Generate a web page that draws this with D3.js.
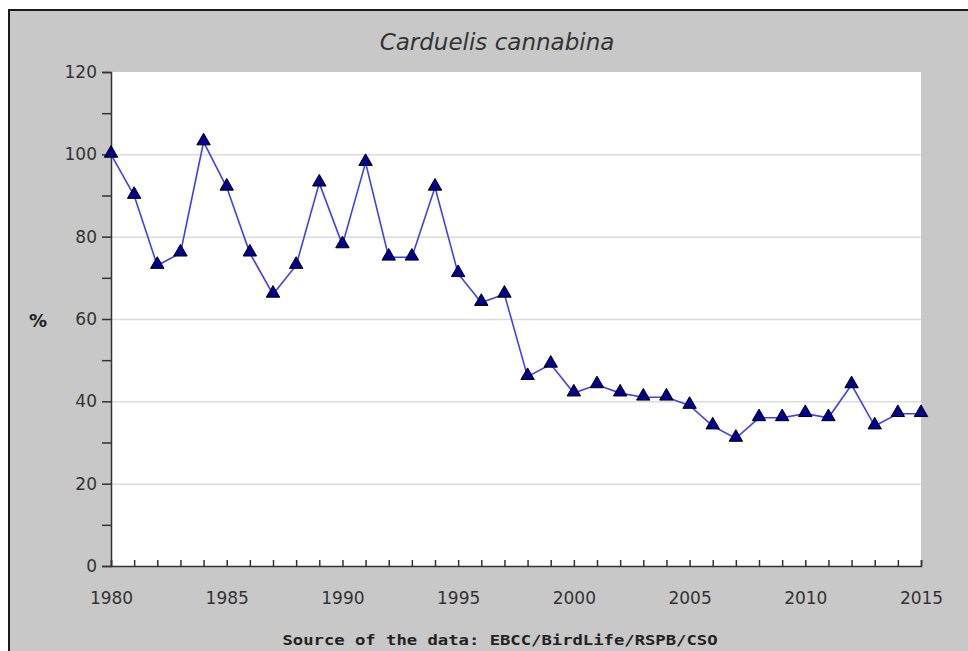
<!DOCTYPE html>
<html>
<head>
<meta charset="utf-8">
<script src="https://cdn.jsdelivr.net/npm/d3@7"></script>
<style>
html,body{margin:0;padding:0;background:#fff;}
svg{display:block;}
</style>
</head>
<body>
<svg id="chart" width="968" height="651"></svg>
<script>
const title = "Carduelis cannabina";
const yAxisLabel = "%";
const sourceText = "Source of the data: EBCC/BirdLife/RSPB/CSO";
const years = [1980,1981,1982,1983,1984,1985,1986,1987,1988,1989,1990,1991,1992,1993,1994,1995,1996,1997,1998,1999,2000,2001,2002,2003,2004,2005,2006,2007,2008,2009,2010,2011,2012,2013,2014,2015];
const values = [100,90,73,76,103,92,76,66,73,93,78,98,75,75,92,71,64,66,46,49,42,44,42,41,41,39,34,31,36,36,37,36,44,34,37,37];
const xTickLabels = [1980,1985,1990,1995,2000,2005,2010,2015];
const yTickLabels = [0,20,40,60,80,100,120];
const yMinorTicks = [0,10,20,30,40,50,60,70,80,90,100,110,120];
const gridValues = [20,40,60,80,100];

const svg = d3.select("#chart");
const pLeft = 111, pRight = 921, pTop = 72, pBottom = 566;

// frame
svg.append("rect").attr("x",9).attr("y",10).attr("width",1000).attr("height",700)
  .attr("fill","#c8c8c8").attr("stroke","#1a1a1a").attr("stroke-width",2);

// plot area
svg.append("rect").attr("x",pLeft).attr("y",pTop).attr("width",pRight-pLeft).attr("height",pBottom-pTop)
  .attr("fill","#ffffff");

const x = d3.scaleLinear().domain([1980,2015]).range([pLeft,pRight]);
const y = d3.scaleLinear().domain([0,120]).range([pBottom,pTop]);

// grid
svg.append("g").selectAll("line").data(gridValues).join("line")
  .attr("x1",pLeft).attr("x2",pRight)
  .attr("y1",d=>y(d)+0.5).attr("y2",d=>y(d)+0.5)
  .attr("stroke","#dcdcdc").attr("stroke-width",1.5);

// y axis
const yAxis = d3.axisLeft(y).tickValues(yMinorTicks).tickSize(9).tickPadding(5)
  .tickFormat(d => yTickLabels.includes(d) ? d : "");
const gy = svg.append("g").attr("transform",`translate(${pLeft},0)`).call(yAxis);
gy.select(".domain").attr("stroke","#333").attr("stroke-width",1.5);
gy.selectAll(".tick line").attr("stroke","#333").attr("stroke-width",1.5);
gy.selectAll("text").attr("font-family","DejaVu Sans, sans-serif").attr("font-size",17).attr("fill","#333");

// x axis (ticks pointing inward)
const xAxis = d3.axisBottom(x).tickValues(years).tickSize(-6).tickPadding(26)
  .tickFormat(d => xTickLabels.includes(d) ? d : "");
const gx = svg.append("g").attr("transform",`translate(0,${pBottom})`).call(xAxis);
gx.select(".domain").attr("stroke","#333").attr("stroke-width",1.5);
gx.selectAll(".tick line").attr("stroke","#333").attr("stroke-width",1.5);
gx.selectAll("text").attr("font-family","DejaVu Sans, sans-serif").attr("font-size",17).attr("fill","#333");

// line
const line = d3.line().x((d,i)=>x(years[i])).y(d=>y(d));
svg.append("path").datum(values).attr("d",line)
  .attr("fill","none").attr("stroke","#4040f0").attr("stroke-width",1.6);

// markers
const tri = d3.symbol().type(d3.symbolTriangle).size(78);
svg.append("g").selectAll("path").data(values).join("path")
  .attr("d",tri)
  .attr("transform",(d,i)=>`translate(${x(years[i])},${y(d)-1})`)
  .attr("fill","#000090").attr("stroke","#000").attr("stroke-width",1);

// title
svg.append("text").attr("x",497).attr("y",50).attr("text-anchor","middle")
  .attr("font-family","DejaVu Sans, sans-serif").attr("font-style","italic")
  .attr("font-size",23).attr("fill","#333").text(title);

// y label
svg.append("text").attr("x",38).attr("y",327).attr("text-anchor","middle")
  .attr("font-family","DejaVu Sans, sans-serif").attr("font-weight","bold")
  .attr("font-size",18).attr("fill","#222").text(yAxisLabel);

// source
svg.append("text").attr("x",500).attr("y",645).attr("text-anchor","middle")
  .attr("font-family","DejaVu Sans Mono, monospace").attr("font-weight","bold")
  .attr("font-size",14).attr("fill","#222")
  .attr("textLength",435).attr("lengthAdjust","spacingAndGlyphs").text(sourceText);
</script>
</body>
</html>
